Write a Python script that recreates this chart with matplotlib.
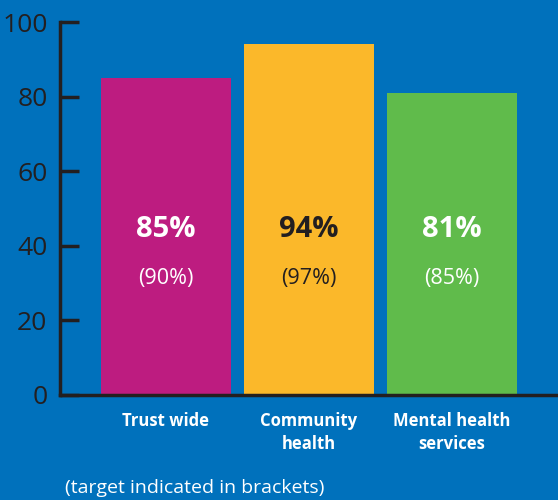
import matplotlib.pyplot as plt

categories = ['Trust wide', 'Community\nhealth', 'Mental health\nservices']
values = [85, 94, 81]
targets = [90, 97, 85]
colors = ['#BD1C80', '#FBB82A', '#60BB4B']
text_colors = ['white', '#231F20', 'white']

bg = '#0071BC'
dark = '#231F20'
plt.rcParams['font.family'] = ['Open Sans', 'DejaVu Sans']

fig = plt.figure(figsize=(5.58, 5.0), dpi=100, facecolor=bg)
ax = fig.add_axes([60 / 558, 1 - 395 / 500, 1 - 60 / 558, (395 - 22) / 500])
ax.set_facecolor(bg)

x = list(range(len(categories)))
ax.bar(x, values, width=0.91, color=colors)

for i, (v, t) in enumerate(zip(values, targets)):
    ax.text(i, 44.3, f'{v}%', ha='center', va='center', fontsize=21,
            fontweight='bold', color=text_colors[i])
    ax.text(i, 31.2, f'({t}%)', ha='center', va='center', fontsize=15.5,
            color=text_colors[i])

ax.set_xlim(-0.741, 2.741)
ax.set_ylim(0, 100)
ax.set_yticks([0, 20, 40, 60, 80, 100])
ax.tick_params(axis='y', direction='in', length=14, width=2.5, color=dark,
               labelsize=19, labelcolor=dark, pad=9)
ax.set_xticks(x)
ax.set_xticklabels(categories, fontsize=12, fontweight='bold', color='white',
                   linespacing=1.4)
ax.tick_params(axis='x', length=0, pad=12)

for s in ['top', 'right']:
    ax.spines[s].set_visible(False)
for s in ['left', 'bottom']:
    ax.spines[s].set_color(dark)
    ax.spines[s].set_linewidth(2.5)

fig.text(65 / 558, 1 - 488 / 500, '(target indicated in brackets)', fontsize=14,
         color='white', ha='left', va='center')

fig.savefig('out.png', dpi=100, facecolor=bg)
